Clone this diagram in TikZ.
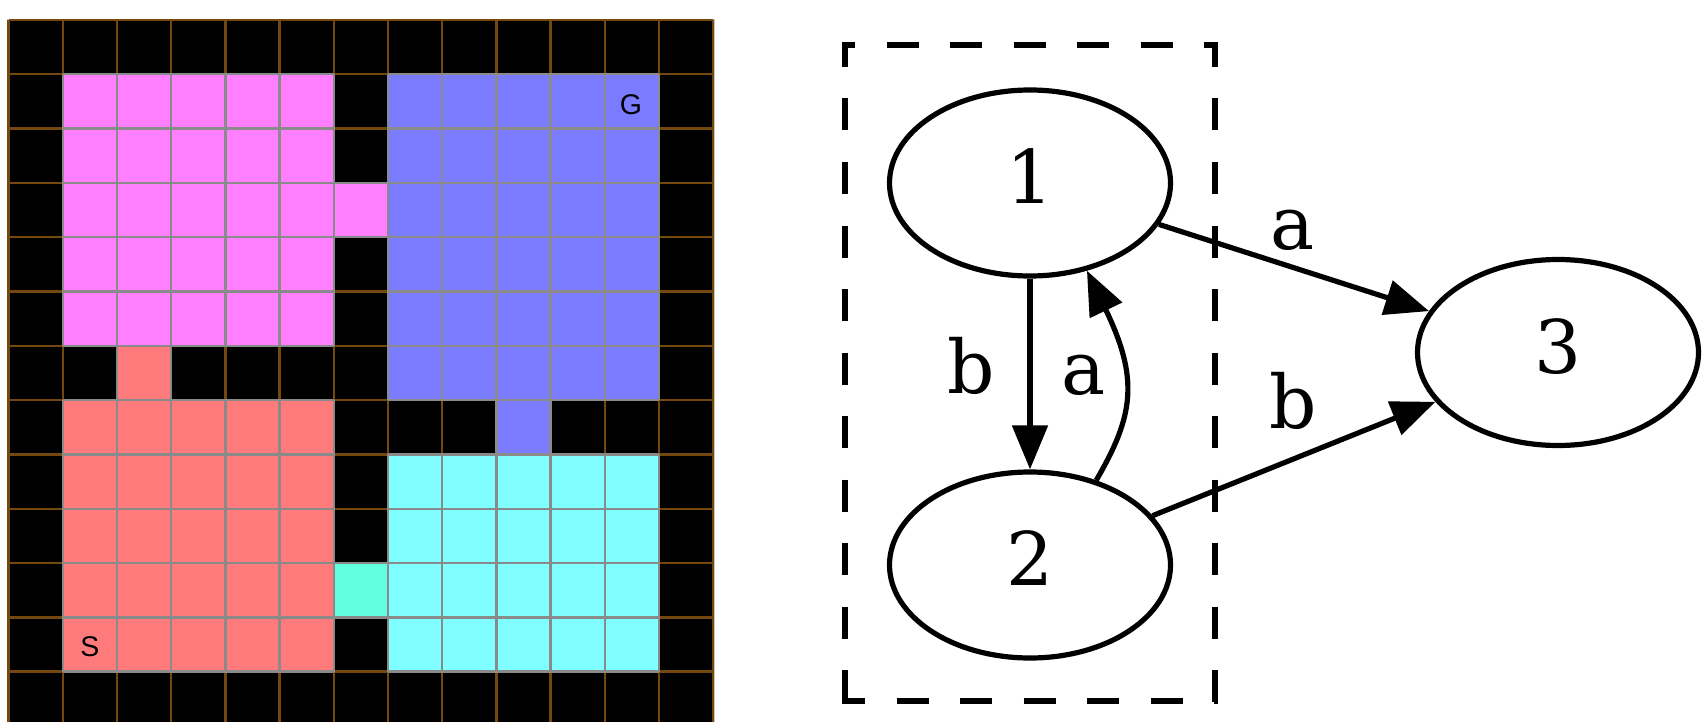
\documentclass[tikz,border=0pt]{standalone}
\usepackage{fontspec}
\usetikzlibrary{arrows.meta,shapes.geometric}
\newfontfamily\graphfont{DejaVu Serif}
\newfontfamily\gridfont{Liberation Sans}
\definecolor{roompink}{HTML}{FF7FFF}
\definecolor{roomblue}{HTML}{7B7BFF}
\definecolor{roomred}{HTML}{FF7B7B}
\definecolor{roomcyan}{HTML}{7FFFFF}
\definecolor{doorgreen}{HTML}{5FFFDF}
\definecolor{wallbrown}{HTML}{74480F}
\definecolor{floorgray}{HTML}{8A8A8A}
% inner cell lines of a coloured block, in cell units
\newcommand\roomgrid[4]{%
  \foreach \c in {#1,...,#3} {\draw[floorline] (\c,#2) -- (\c,#4);}
  \foreach \r in {#2,...,#4} {\draw[floorline] (#1,\r) -- (#3,\r);}
}
\begin{document}
\begin{tikzpicture}[x=1pt,y=-1pt,
  statenode/.style={ellipse, draw, line width=5.2pt, minimum width=281pt,
    minimum height=186pt, inner sep=0pt,
    font=\graphfont\fontsize{74}{80}\selectfont,
    text height=55pt, text depth=14pt},
  trans/.style={line width=5.2pt, -{Triangle[length=44pt,width=35pt]}},
  elabel/.style={anchor=base, inner sep=0pt,
    font=\graphfont\fontsize{74}{80}\selectfont},
  cluster/.style={line width=5.2pt, dash pattern=on 32pt off 31.5pt},
  wallline/.style={draw=wallbrown, line width=2.4pt},
  floorline/.style={draw=floorgray, line width=2.4pt},
  gridlabel/.style={anchor=base, inner sep=0pt,
    font=\gridfont\fontsize{28.5}{30}\selectfont}]
\useasboundingbox (0,0) rectangle (1702,722);
\fill[white] (0,0) rectangle (1702,722);

% ---------- gridworld with four rooms ----------
\begin{scope}
\clip (0,0) rectangle (1702,722);
\draw[gray!45, line width=1pt] (7.5,19.5) rectangle (714,740);
\begin{scope}[shift={(8.5,20)}, x=54.2pt, y=-54.3pt]
  \fill[black] (0,0) rectangle (13,13);
  \fill[roompink] (1,1) rectangle (6,6);
  \fill[roompink] (6,3) rectangle (7,4);
  \fill[roomblue] (7,1) rectangle (12,7);
  \fill[roomblue] (9,7) rectangle (10,8);
  \fill[roomred] (1,7) rectangle (6,12);
  \fill[roomred] (2,6) rectangle (3,7);
  \fill[roomcyan] (7,8) rectangle (12,12);
  \fill[doorgreen] (6,10) rectangle (7,11);
  \foreach \k in {0,...,13} {
    \draw[wallline] (\k,0) -- (\k,13);
    \draw[wallline] (0,\k) -- (13,\k);
  }
  \roomgrid{1}{1}{6}{6}
  \roomgrid{6}{3}{7}{4}
  \roomgrid{7}{1}{12}{7}
  \roomgrid{9}{7}{10}{8}
  \roomgrid{1}{7}{6}{12}
  \roomgrid{2}{6}{3}{7}
  \roomgrid{7}{8}{12}{12}
  \roomgrid{6}{10}{7}{11}
\end{scope}
\end{scope}
\node[gridlabel] (start) at (90,656.5) {S};
\node[gridlabel] (goal) at (631,115) {G};

% ---------- option cluster (dashed) ----------
\coordinate (boxnw) at (845,45);
\coordinate (boxne) at (1215,45);
\coordinate (boxsw) at (845,701);
\coordinate (boxse) at (1215,701);
\draw[cluster, dash phase=19.4pt] ([xshift=-2.6pt]boxnw) -- ([xshift=2.6pt]boxne);
\draw[cluster, dash phase=7.4pt] ([yshift=2.6pt]boxnw) -- ([yshift=-2.6pt]boxsw);
\draw[cluster, dash phase=7.4pt] ([yshift=2.6pt]boxne) -- ([yshift=-2.6pt]boxse);
\draw[cluster, dash phase=9.4pt] ([xshift=-2.6pt]boxsw) -- ([xshift=2.6pt]boxse);

% ---------- states ----------
\node[statenode] (n1) at (1030,183) {1};
\node[statenode] (n2) at (1030,565) {2};
\node[statenode] (n3) at (1558,352.5) {3};

% ---------- transitions ----------
\draw[trans] (n1) -- (n2);
\draw[trans] (n2.52) .. controls +(38,-65) and +(52,108) .. (n1.-57);
\draw[trans] (n1) -- (n3);
\draw[trans] (n2) -- (n3);

\node[elabel] (lb12) at (971,393) {b};
\node[elabel] (la21) at (1084,394) {a};
\node[elabel] (la13) at (1293,249) {a};
\node[elabel] (lb23) at (1293,428) {b};
\end{tikzpicture}
\end{document}
